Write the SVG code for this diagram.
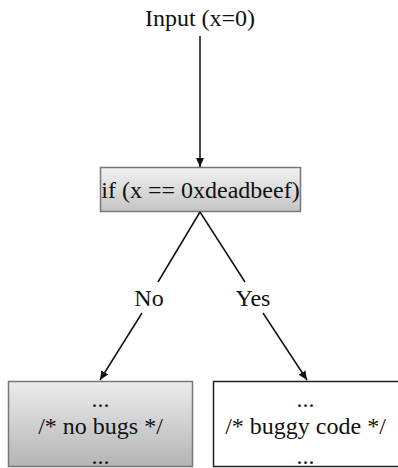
<svg xmlns="http://www.w3.org/2000/svg" width="398" height="468" viewBox="0 0 398 468">
<style>
text{font-family:"Liberation Serif","Times New Roman",serif;font-size:24px;fill:#111;text-anchor:middle}
.ln{stroke:#111;stroke-width:1.5;fill:none}
</style>
<defs>
<linearGradient id="g1" x1="0" y1="0" x2="0" y2="1"><stop offset="0" stop-color="#f2f2f2"/><stop offset="1" stop-color="#c4c4c4"/></linearGradient>
<linearGradient id="g2" x1="0" y1="0" x2="0" y2="1"><stop offset="0" stop-color="#ececec"/><stop offset="1" stop-color="#b4b4b4"/></linearGradient>
<marker id="ah" markerWidth="10" markerHeight="10" refX="9" refY="5" orient="auto" markerUnits="userSpaceOnUse"><path d="M0,1 L9,5 L0,9 Z" fill="#111"/></marker>
</defs>
<g id="input"><text x="200" y="26">Input (x=0)</text></g>
<g id="cond"><rect x="100.5" y="167.5" width="200" height="44" fill="url(#g1)" stroke="#777" stroke-width="1.5"/><text x="200.5" y="198">if (x == 0xdeadbeef)</text></g>
<g id="no"><text x="149" y="306">No</text></g>
<g id="yes"><text x="253" y="306">Yes</text></g>
<g id="nobugs"><rect x="8.5" y="381.5" width="184" height="85" fill="url(#g2)" stroke="#777" stroke-width="1.5"/><text x="100.5" y="407">...</text><text x="100.5" y="434">/* no bugs */</text><text x="100.5" y="464">...</text></g>
<g id="buggy"><rect x="213.5" y="381.5" width="190" height="85" fill="#fff" stroke="#222" stroke-width="1.5"/><text x="305.5" y="407">...</text><text x="305.5" y="434">/* buggy code */</text><text x="305.5" y="464">...</text></g>
<g id="connectors">
<line class="ln" x1="200" y1="36" x2="200" y2="167" marker-end="url(#ah)"/>
<line class="ln" x1="200" y1="212" x2="158" y2="282"/>
<line class="ln" x1="200" y1="212" x2="245" y2="282"/>
<line class="ln" x1="142" y1="313" x2="100" y2="380" marker-end="url(#ah)"/>
<line class="ln" x1="263" y1="313" x2="307" y2="380" marker-end="url(#ah)"/>
</g>
</svg>
